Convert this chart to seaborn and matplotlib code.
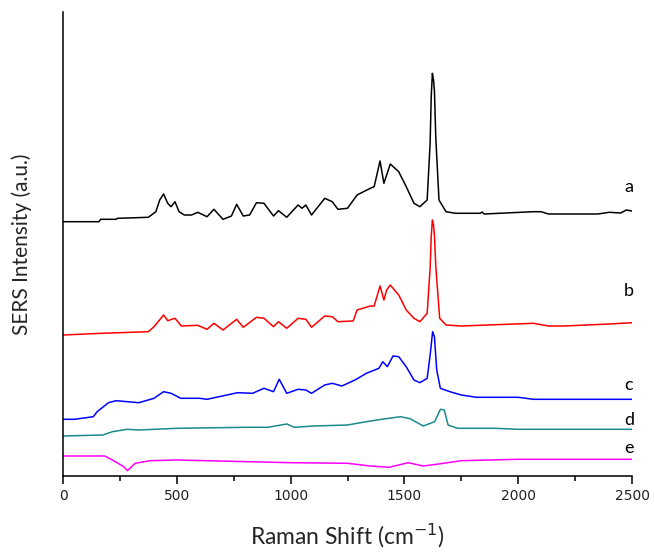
import matplotlib
matplotlib.use("Agg")
import matplotlib.pyplot as plt
import seaborn as sns
import pandas as pd
from matplotlib.ticker import MultipleLocator

# Raman shift (cm^-1) and offset intensities (a.u.)
a_x = [0, 158, 165, 233, 240, 375, 408, 425, 442, 460, 475, 492, 510, 533, 565, 592, 633, 663, 703, 740,
       763, 792, 820, 850, 883, 925, 947, 983, 1033, 1050, 1067, 1092, 1150, 1183, 1208, 1250, 1292, 1350,
       1367, 1393, 1410, 1422, 1438, 1475, 1508, 1542, 1568, 1600, 1613, 1618, 1623, 1628, 1632, 1638, 1652,
       1683, 1725, 1833, 1842, 1850, 2067, 2100, 2133, 2350, 2400, 2450, 2475, 2500]
a_y = [254.3, 254.3, 256.7, 256.7, 257.7, 258.7, 264.3, 276, 282, 272.7, 269.3, 274.3, 264.3, 261, 261,
       263.7, 259.3, 266.7, 256.7, 260, 271.7, 260, 261, 273.3, 272.7, 260, 265.3, 258.7, 271, 267.7, 271,
       261, 277.7, 274.3, 266.7, 267.7, 281, 287.7, 289.3, 315, 292.7, 301, 312, 304.3, 289.3, 272.7, 269.3,
       276, 332.7, 380, 402.7, 396, 385, 337.7, 276, 264.3, 262.7, 262.7, 264, 262, 264.3, 264.3, 262, 262,
       263.7, 263, 266, 265]

b_x = [0, 170, 375, 400, 442, 460, 492, 520, 592, 633, 663, 703, 763, 792, 850, 883, 925, 947, 983, 1033,
       1067, 1092, 1150, 1183, 1208, 1275, 1292, 1350, 1367, 1393, 1410, 1422, 1438, 1475, 1508, 1542, 1568,
       1600, 1613, 1618, 1623, 1628, 1632, 1638, 1655, 1683, 1750, 2067, 2133, 2200, 2400, 2500]
b_y = [141, 142.7, 144.3, 149.3, 161, 155.3, 157.7, 150, 150.7, 146.7, 152.7, 146, 156.7, 148.7, 158.7,
       157.7, 149.3, 154.3, 147.7, 157.7, 156.7, 148.7, 160, 159.3, 154.3, 155, 166, 170, 170, 190, 176, 186,
       191, 181, 166, 157.7, 154.3, 162.7, 207.7, 240, 256, 251, 240, 209.3, 157.7, 151, 150, 152.7, 150,
       150, 152, 153.3]

c_x = [0, 50, 133, 150, 200, 233, 333, 400, 442, 475, 517, 600, 633, 700, 767, 833, 883, 925, 950, 983,
       1033, 1067, 1092, 1150, 1183, 1225, 1283, 1333, 1388, 1405, 1425, 1450, 1475, 1508, 1542, 1568, 1600,
       1614, 1624, 1632, 1642, 1658, 1700, 1750, 1817, 2000, 2067, 2300, 2500]
c_y = [56.7, 56.7, 59.3, 64.3, 73.3, 75.3, 73.3, 77.7, 84.3, 82.7, 77.7, 77.7, 76.7, 80, 83.3, 82.7, 87.7,
       84.3, 96.7, 82.7, 86.7, 86, 82.7, 91, 92.7, 90, 96, 102.7, 107.7, 114.3, 109.3, 120, 119.3, 109.3, 96,
       93.3, 97.7, 122.7, 144.3, 139.3, 106, 87.7, 84.3, 81, 78.7, 78.7, 76.7, 76.7, 76.7]

d_x = [0, 175, 217, 283, 333, 500, 800, 900, 983, 1017, 1100, 1250, 1333, 1400, 1483, 1525, 1583, 1633,
       1658, 1675, 1692, 1733, 1900, 2000, 2500]
d_y = [40, 41, 44.3, 46.7, 46, 47.7, 48.7, 48.7, 52, 48.7, 50, 51, 54.3, 56.7, 59.3, 57.3, 50, 54.3, 66.7,
       66, 51, 47.7, 47.7, 46.7, 46.7]

e_x = [0, 183, 217, 267, 283, 317, 383, 500, 1000, 1250, 1350, 1433, 1517, 1583, 1650, 1750, 2000, 2500]
e_y = [20, 20, 16, 9.3, 5.3, 12.7, 15.3, 16, 13.3, 12.7, 10, 8.7, 13.3, 10, 12, 15.3, 16.7, 16.7]

labels = ["a", "b", "c", "d", "e"]
label_y = [289, 185, 91, 56, 28]
colors = ["#000000", "#ff0000", "#0000ff", "#1a8a8a", "#ff00ff"]
xticks = [0, 500, 1000, 1500, 2000, 2500]

series = [(a_x, a_y), (b_x, b_y), (c_x, c_y), (d_x, d_y), (e_x, e_y)]
frames = []
for lab, (xs, ys) in zip(labels, series):
    frames.append(pd.DataFrame({"shift": xs, "intensity": ys, "sample": lab}))
df = pd.concat(frames, ignore_index=True)

sns.set_style("white")
plt.rcParams["font.family"] = ["DejaVu Sans"]

fig = plt.figure(figsize=(6.54, 5.55), dpi=100)
ax = fig.add_axes([63 / 654, 1 - 476 / 555, (632 - 63) / 654, (476 - 12) / 555])

sns.lineplot(data=df, x="shift", y="intensity", hue="sample", palette=dict(zip(labels, colors)),
             estimator=None, sort=False, linewidth=1.1, legend=False, ax=ax)

for lab, ly in zip(labels, label_y):
    ax.text(2487, ly, lab, ha="center", va="center", fontsize=13, color="black", family="Lato")

ax.set_xlim(0, 2500)
ax.set_ylim(0, 464)
ax.set_xticks(xticks)
ax.set_xticklabels([str(t) for t in xticks], fontsize=10, color="#222222")
ax.xaxis.set_minor_locator(MultipleLocator(250))
ax.tick_params(axis="x", which="major", direction="out", length=6, width=1.1, pad=3, bottom=True,
               color="black")
ax.tick_params(axis="x", which="minor", direction="out", length=3.5, width=1.1, bottom=True,
               color="black")
ax.set_yticks([])
for s in ["top", "right"]:
    ax.spines[s].set_visible(False)
for s in ["left", "bottom"]:
    ax.spines[s].set_color("black")
    ax.spines[s].set_linewidth(1.1)

ax.set_xlabel("Raman Shift (cm$^{-1}$)", fontsize=16.5, family="Lato", labelpad=14)
ax.set_ylabel("SERS Intensity (a.u.)", fontsize=15, family="Lato", labelpad=22)

fig.savefig("out.png", dpi=100)
